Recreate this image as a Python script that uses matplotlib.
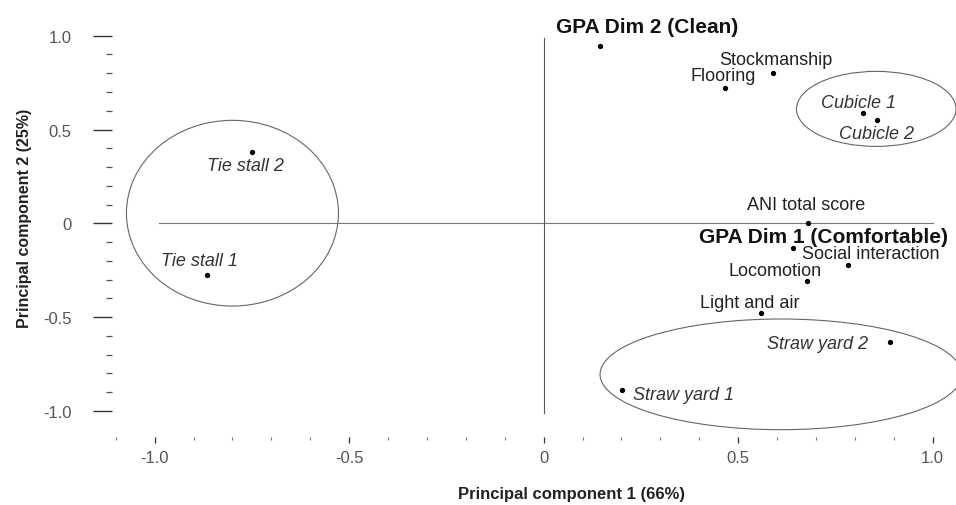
import matplotlib
matplotlib.use("Agg")
from matplotlib import pyplot as plt
from matplotlib.patches import Ellipse
from matplotlib.ticker import MultipleLocator, FixedLocator, FuncFormatter

plt.rcParams["font.family"] = ["Liberation Sans", "DejaVu Sans"]

# variables (upright labels)
var_names = ["Stockmanship", "Flooring", "ANI total score", "Social interaction",
             "Locomotion", "Light and air"]
var_x = [0.590, 0.466, 0.680, 0.783, 0.677, 0.560]
var_y = [0.800, 0.724, 0.000, -0.222, -0.308, -0.480]

# GPA dimensions (bold labels)
gpa_names = ["GPA Dim 2 (Clean)", "GPA Dim 1 (Comfortable)"]
gpa_x = [0.145, 0.642]
gpa_y = [0.946, -0.133]

# housing systems (italic labels)
farm_names = ["Cubicle 1", "Cubicle 2", "Tie stall 1", "Tie stall 2",
              "Straw yard 1", "Straw yard 2"]
farm_x = [0.822, 0.858, -0.866, -0.751, 0.202, 0.890]
farm_y = [0.590, 0.551, -0.277, 0.380, -0.890, -0.633]

# group ellipses: centre x, centre y, width, height
group_cx = [0.855, -0.800, 0.610]
group_cy = [0.610, 0.054, -0.805]
group_w = [0.41, 0.545, 0.93]
group_h = [0.40, 0.99, 0.59]

# label offsets (data units) and alignment
var_lab = {
    "Stockmanship": (0.008, 0.075, "center"),
    "Flooring": (0.079, 0.062, "right"),
    "ANI total score": (-0.004, 0.10, "center"),
    "Social interaction": (-0.12, 0.062, "left"),
    "Locomotion": (0.038, 0.058, "right"),
    "Light and air": (-0.03, 0.06, "center"),
}
gpa_lab = {
    "GPA Dim 2 (Clean)": (-0.112, 0.105, "left"),
    "GPA Dim 1 (Comfortable)": (-0.242, 0.063, "left"),
}
farm_lab = {
    "Cubicle 1": (-0.012, 0.055, "center"),
    "Cubicle 2": (-0.003, -0.071, "center"),
    "Tie stall 1": (-0.02, 0.077, "center"),
    "Tie stall 2": (-0.015, -0.07, "center"),
    "Straw yard 1": (0.027, -0.02, "left"),
    "Straw yard 2": (-0.057, -0.007, "right"),
}

fig = plt.figure(figsize=(9.56, 5.06), dpi=100)
ax = fig.add_axes([0.117, 0.134, 0.883, 0.8305])
ax.set_xlim(-1.11, 1.06)
ax.set_ylim(-1.14, 1.10)

# reference axes through origin
ax.plot([-0.99, 1.0], [0, 0], color="#777777", lw=0.8)
ax.plot([0, 0], [-1.01, 0.99], color="#555555", lw=0.8)

for cx, cy, w, h in zip(group_cx, group_cy, group_w, group_h):
    ax.add_patch(Ellipse((cx, cy), w, h, fill=False, ec="#666666", lw=0.8,
                         clip_on=False))

all_x = var_x + gpa_x + farm_x
all_y = var_y + gpa_y + farm_y
ax.plot(all_x, all_y, "o", color="black", ms=2.8, ls="none")

for n, x, y in zip(var_names, var_x, var_y):
    dx, dy, ha = var_lab[n]
    ax.text(x + dx, y + dy, n, ha=ha, va="center", fontsize=13, color="#222222")
for n, x, y in zip(gpa_names, gpa_x, gpa_y):
    dx, dy, ha = gpa_lab[n]
    ax.text(x + dx, y + dy, n, ha=ha, va="center", fontsize=15,
            fontweight="bold", color="#111111")
for n, x, y in zip(farm_names, farm_x, farm_y):
    dx, dy, ha = farm_lab[n]
    ax.text(x + dx, y + dy, n, ha=ha, va="center", fontsize=13,
            style="italic", color="#333333")

for s in ax.spines.values():
    s.set_visible(False)

fmt = FuncFormatter(lambda v, p: "0" if abs(v) < 1e-9 else "%.1f" % v)
ax.xaxis.set_major_locator(FixedLocator([-1.0, -0.5, 0, 0.5, 1.0]))
ax.yaxis.set_major_locator(FixedLocator([-1.0, -0.5, 0, 0.5, 1.0]))
ax.xaxis.set_minor_locator(MultipleLocator(0.1))
ax.yaxis.set_minor_locator(FixedLocator([i / 10 for i in range(-10, 11)]))
ax.xaxis.set_major_formatter(fmt)
ax.yaxis.set_major_formatter(fmt)

ax.tick_params(axis="y", which="major", length=14, width=1.0, pad=15,
               labelsize=12, labelcolor="#555555", color="#333333")
ax.tick_params(axis="y", which="minor", length=4.5, width=0.9, color="#555555")
ax.tick_params(axis="x", which="major", length=4, width=0.9, pad=5,
               labelsize=12, labelcolor="#555555", color="#333333")
ax.tick_params(axis="x", which="minor", length=2, width=0.8, color="#777777")

ax.set_xlabel("Principal component 1 (66%)", fontsize=12, fontweight="bold",
              color="#222222")
ax.set_ylabel("Principal component 2 (25%)", fontsize=11.5, fontweight="bold",
              color="#222222")
ax.xaxis.set_label_coords(0.545, -0.117)
ax.yaxis.set_label_coords(-0.0948, 0.524)

fig.savefig("out.png", dpi=100)
